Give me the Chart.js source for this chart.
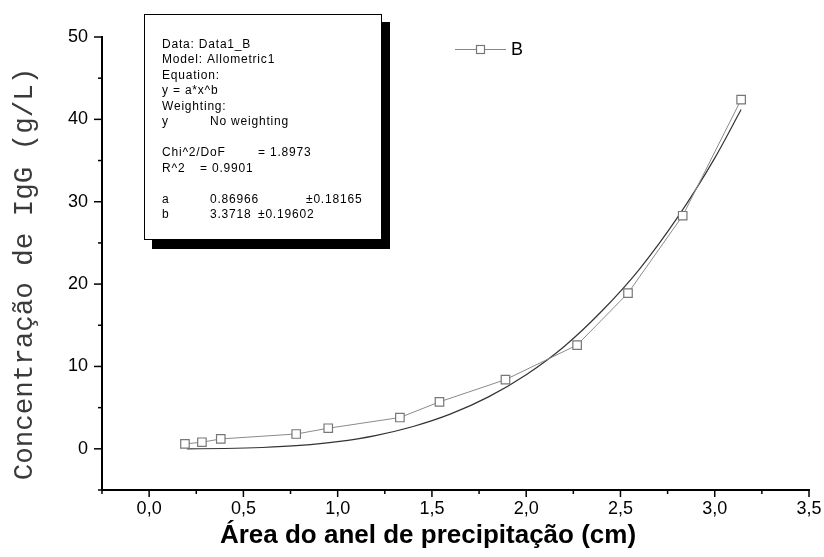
<!DOCTYPE html>
<html lang="pt">
<head>
<meta charset="UTF-8">
<title>Concentração de IgG</title>
<script src="https://cdn.jsdelivr.net/npm/chart.js"></script>
<style>
  html, body { margin: 0; padding: 0; background: #fff; }
</style>
</head>
<body>
<canvas id="myChart" width="824" height="557"></canvas>
<script>
// pontos medidos: área do anel (cm) x concentração de IgG (g/L)
const areaX = [0.19, 0.28, 0.38, 0.78, 0.95, 1.33, 1.54, 1.89, 2.27, 2.54, 2.83, 3.14];
const igG   = [0.6, 0.8, 1.2, 1.8, 2.5, 3.8, 5.7, 8.4, 12.6, 18.9, 28.3, 42.4];

// curva ajustada (Allometric1)
const fitX = [0.2, 0.4, 0.6, 0.8, 1.0, 1.2, 1.4, 1.6, 1.8, 2.0, 2.2, 2.4, 2.6, 2.8, 3.0, 3.14];
const fitY = [0.0, 0.04, 0.16, 0.41, 0.87, 1.61, 2.71, 4.24, 6.31, 9.0, 12.4, 16.7, 21.8, 28.0, 35.3, 41.2];

const seriesName = 'B';
const xTitle = 'Área do anel de precipitação (cm)';
const yTitle = 'Concentração de IgG (g/L)';

// caixa de resultados do ajuste
const statRows = [
    ['Data: Data1_B'],
    ['Model: Allometric1'],
    ['Equation:'],
    ['y = a*x^b'],
    ['Weighting:'],
    ['y', 'No weighting'],
    [],
    ['Chi^2/DoF', '= 1.8973'],
    ['R^2', '= 0.9901'],
    [],
    ['a', '0.86966', '±0.18165'],
    ['b', '3.3718', '±0.19602']
];

const pts = areaX.map((v, i) => ({ x: v, y: igG[i] }));
const fitPts = fitX.map((v, i) => ({ x: v, y: fitY[i] }));

const isMult = (v, s) => Math.abs(Math.round(v / s) * s - v) < 1e-6;

// marcas dos eixos, títulos, legenda e caixa de texto
const extras = {
    id: 'extras',
    afterDraw(chart) {
        const ctx = chart.ctx;
        const xs = chart.scales.x, ys = chart.scales.y;
        ctx.save();
        ctx.strokeStyle = '#000';
        ctx.lineWidth = 1.5;
        xs.ticks.forEach(t => {
            const px = xs.getPixelForValue(t.value);
            ctx.beginPath();
            ctx.moveTo(px, xs.top);
            ctx.lineTo(px, xs.top + (isMult(t.value, 0.5) ? 7 : 4));
            ctx.stroke();
        });
        ys.ticks.forEach(t => {
            const py = ys.getPixelForValue(t.value);
            ctx.beginPath();
            ctx.moveTo(ys.right, py);
            ctx.lineTo(ys.right - (isMult(t.value, 10) ? 8 : 4), py);
            ctx.stroke();
        });

        // títulos
        ctx.fillStyle = '#000';
        ctx.textAlign = 'center';
        ctx.textBaseline = 'middle';
        ctx.font = 'bold 26px "Liberation Sans", Arial, sans-serif';
        ctx.fillText(xTitle, 428, 536);
        ctx.save();
        ctx.translate(25, 274);
        ctx.rotate(-Math.PI / 2);
        ctx.fillStyle = '#3a3a3a';
        ctx.font = '27.5px "Courier New", "Liberation Mono", monospace';
        ctx.fillText(yTitle, 0, 0);
        ctx.restore();

        // legenda
        ctx.strokeStyle = '#888';
        ctx.lineWidth = 1;
        ctx.beginPath();
        ctx.moveTo(455, 49.5); ctx.lineTo(506, 49.5);
        ctx.stroke();
        ctx.fillStyle = '#fff';
        ctx.fillRect(476, 45, 9, 9);
        ctx.strokeStyle = '#777';
        ctx.lineWidth = 1.2;
        ctx.strokeRect(476.5, 45.5, 8, 8);
        ctx.fillStyle = '#000';
        ctx.textAlign = 'left';
        ctx.font = '18px "Liberation Sans", Arial, sans-serif';
        ctx.fillText(seriesName, 511, 50);

        // caixa com sombra
        ctx.fillStyle = '#000';
        ctx.fillRect(152, 22, 238, 227);
        ctx.fillStyle = '#fff';
        ctx.fillRect(144, 14, 238, 226);
        ctx.strokeStyle = '#000';
        ctx.lineWidth = 1;
        ctx.strokeRect(144.5, 14.5, 237, 225);
        ctx.fillStyle = '#000';
        ctx.font = '12px "Liberation Sans", Arial, sans-serif';
        ctx.letterSpacing = '0.8px';
        const cols = {
            'y': [162, 210], 'Chi^2/DoF': [162, 258], 'R^2': [162, 200],
            'a': [162, 210, 306], 'b': [162, 210, 258]
        };
        statRows.forEach((row, i) => {
            const yy = 44.5 + i * 15.5;
            const xp = cols[row[0]] || [162];
            row.forEach((txt, j) => ctx.fillText(txt, xp[j], yy));
        });
        ctx.restore();
    }
};

const config = {
    type: 'scatter',
    data: {
        datasets: [{
            label: seriesName,
            data: pts,
            showLine: true,
            borderColor: '#8a8a8a',
            borderWidth: 1,
            pointStyle: 'rect',
            pointRadius: 6,
            pointBorderWidth: 1.2,
            pointBorderColor: '#777',
            pointBackgroundColor: '#fff'
        }, {
            label: 'fit',
            data: fitPts,
            showLine: true,
            borderColor: '#333',
            borderWidth: 1.2,
            pointRadius: 0,
            cubicInterpolationMode: 'monotone'
        }]
    },
    options: {
        responsive: false,
        animation: false,
        events: [],
        layout: { padding: { left: 0, top: 37, right: 15, bottom: 0 } },
        plugins: { legend: { display: false }, tooltip: { enabled: false } },
        scales: {
            x: {
                type: 'linear',
                min: -0.25,
                max: 3.5,
                grid: { display: false, drawTicks: false },
                border: { display: true, color: '#000', width: 2 },
                ticks: {
                    stepSize: 0.25,
                    padding: 8,
                    color: '#000',
                    font: { family: '"Liberation Sans", Arial, sans-serif', size: 18 },
                    maxRotation: 0,
                    autoSkip: false,
                    callback: v => isMult(v, 0.5) ? v.toFixed(1).replace('.', ',') : ''
                },
                afterFit: s => { s.height = 67; s.paddingLeft = 0; s.paddingRight = 0; }
            },
            y: {
                type: 'linear',
                min: -5,
                max: 50,
                grid: { display: false, drawTicks: false },
                border: { display: true, color: '#000', width: 2 },
                ticks: {
                    stepSize: 5,
                    padding: 14,
                    color: '#000',
                    font: { family: '"Liberation Sans", Arial, sans-serif', size: 18 },
                    autoSkip: false,
                    callback: v => isMult(v, 10) ? String(v) : ''
                },
                afterFit: s => { s.width = 102; s.paddingTop = 0; s.paddingBottom = 0; }
            }
        }
    },
    plugins: [extras]
};

new Chart(document.getElementById('myChart'), config);
</script>
</body>
</html>
